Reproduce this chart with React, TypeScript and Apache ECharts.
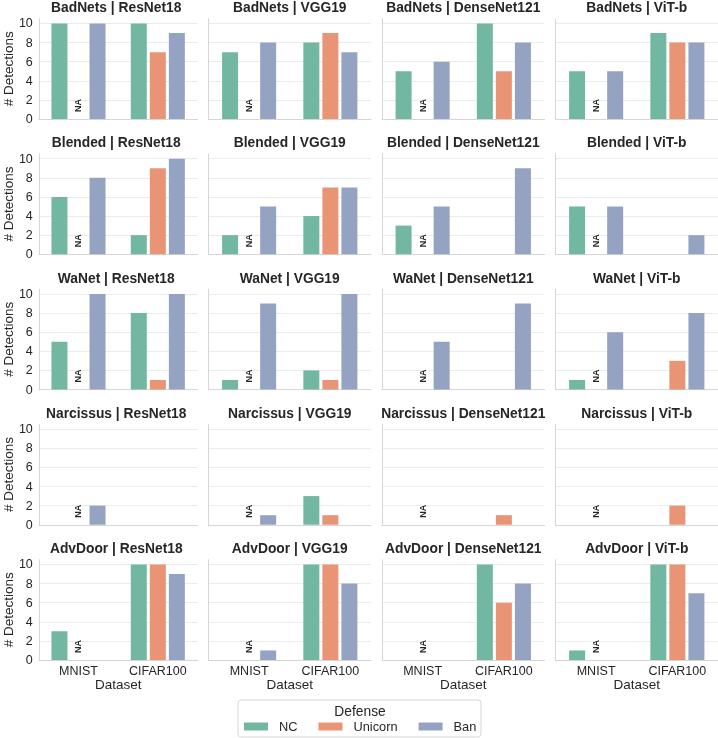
import React, { useEffect, useRef } from "react";
import * as echarts from "echarts";

const attacks = ["BadNets", "Blended", "WaNet", "Narcissus", "AdvDoor"];
const models = ["ResNet18", "VGG19", "DenseNet121", "ViT-b"];
const datasets = ["MNIST", "CIFAR100"];
const defenses = ["NC", "Unicorn", "Ban"];
const yTicks = [0, 2, 4, 6, 8, 10];

// [attack][model] = [MNIST, CIFAR100]
const ncCounts = [
  [[10, 10], [7, 8], [5, 10], [5, 9]],
  [[6, 2], [2, 4], [3, 0], [5, 0]],
  [[5, 8], [1, 2], [0, 0], [1, 0]],
  [[0, 0], [0, 3], [0, 0], [0, 0]],
  [[3, 10], [0, 10], [0, 10], [1, 10]],
];
const unicornCounts = [
  [[null, 7], [null, 9], [null, 5], [null, 8]],
  [[null, 9], [null, 7], [null, 0], [null, 0]],
  [[null, 1], [null, 1], [null, 0], [null, 3]],
  [[null, 0], [null, 1], [null, 1], [null, 2]],
  [[null, 10], [null, 10], [null, 6], [null, 10]],
];
const banCounts = [
  [[10, 9], [8, 7], [6, 8], [5, 8]],
  [[8, 10], [5, 7], [5, 9], [5, 2]],
  [[10, 10], [9, 10], [5, 9], [6, 8]],
  [[2, 0], [1, 0], [0, 0], [0, 0]],
  [[0, 9], [1, 8], [0, 8], [0, 7]],
];

const colors = ["#72b7a1", "#e99575", "#95a3c3"];
const TEXT = "#262626";
const FONT = "'Liberation Sans', Arial, Helvetica, sans-serif";

export default function App() {
  const ref = useRef<HTMLDivElement>(null);
  useEffect(() => {
    if (!ref.current) return;
    const chart = echarts.init(ref.current, null, { renderer: "svg" });
    const counts = [ncCounts, unicornCounts, banCounts];
    const grids: any[] = [];
    const xAxes: any[] = [];
    const yAxes: any[] = [];
    const series: any[] = [];
    const graphics: any[] = [];
    const yMax = yTicks[yTicks.length - 1] + 0.5;
    const plotH = 100.3;
    const plotW = 162.5;
    attacks.forEach((atk, r) => {
      models.forEach((mdl, c) => {
        const idx = r * models.length + c;
        const left = 35 + c * 173.5;
        const bottom = 119 + r * 135.25;
        const top = bottom - plotH;
        grids.push({ left, top, width: plotW, height: plotH });
        graphics.push({
          type: "text",
          x: left + plotW / 2,
          y: top - 11,
          style: {
            text: `${atk} | ${mdl}`,
            textAlign: "center",
            textVerticalAlign: "middle",
            font: `bold 13.8px ${FONT}`,
            fill: TEXT,
          },
        });
        const lastRow = r === attacks.length - 1;
        xAxes.push({
          type: "category",
          gridIndex: idx,
          data: datasets,
          axisLine: { show: true, lineStyle: { color: "#d6d6d6", width: 1 } },
          axisTick: { show: false },
          axisLabel: { show: lastRow, fontSize: 12.5, color: TEXT, margin: 4, fontFamily: FONT },
          splitLine: { show: false },
          name: lastRow ? "Dataset" : "",
          nameLocation: "middle",
          nameGap: 17,
          nameTextStyle: { fontSize: 13.5, color: TEXT, fontFamily: FONT },
        });
        yAxes.push({
          type: "value",
          gridIndex: idx,
          min: 0,
          max: yMax,
          interval: 2,
          axisLine: { show: true, lineStyle: { color: "#d6d6d6", width: 1 } },
          axisTick: { show: false },
          axisLabel: {
            show: c === 0,
            fontSize: 12.5,
            color: TEXT,
            margin: 6,
            fontFamily: FONT,
            showMaxLabel: false,
            formatter: (v: number) => (yTicks.includes(v) ? String(v) : ""),
          },
          splitLine: { show: true, showMaxLine: false, lineStyle: { color: "#ebebeb", width: 1 } },
          name: c === 0 ? "# Detections" : "",
          nameLocation: "middle",
          nameGap: 22,
          nameTextStyle: { fontSize: 13.5, color: TEXT, fontFamily: FONT },
        });
        defenses.forEach((def, d) => {
          const vals = counts[d][r][c];
          series.push({
            type: "bar",
            name: def,
            xAxisIndex: idx,
            yAxisIndex: idx,
            barWidth: 16,
            barGap: "19%",
            itemStyle: { color: colors[d] },
            data: vals.map((v: number | null) =>
              v === null
                ? {
                    value: 0,
                    label: {
                      show: true,
                      formatter: "NA",
                      position: "top",
                      rotate: 90,
                      align: "left",
                      verticalAlign: "middle",
                      distance: 7,
                      fontSize: 9,
                      fontWeight: "bold",
                      color: TEXT,
                      fontFamily: FONT,
                    },
                  }
                : v
            ),
          });
        });
      });
    });
    graphics.push({
      type: "rect",
      z: 0,
      shape: { x: 238, y: 700, width: 243, height: 37, r: 3 },
      style: { fill: "#ffffff", stroke: "#d6d6d6", lineWidth: 1 },
    });
    graphics.push({
      type: "text",
      z: 1,
      x: 360,
      y: 711,
      style: {
        text: "Defense",
        textAlign: "center",
        textVerticalAlign: "middle",
        font: `13.8px ${FONT}`,
        fill: TEXT,
      },
    });
    chart.setOption({
      animation: false,
      textStyle: { fontFamily: FONT },
      grid: grids,
      xAxis: xAxes,
      yAxis: yAxes,
      series,
      graphic: graphics,
      legend: {
        data: defenses,
        left: 239,
        top: 715,
        z: 10,
        icon: "rect",
        itemWidth: 24,
        itemHeight: 8,
        itemGap: 21,
        selectedMode: false,
        textStyle: { fontSize: 12.8, color: TEXT, fontFamily: FONT, padding: [0, 0, 0, 6] },
      },
    });
    return () => chart.dispose();
  }, []);
  return (
    <div
      ref={ref}
      style={{ position: "fixed", left: 0, top: 0, width: 718, height: 738 }}
    />
  );
}
